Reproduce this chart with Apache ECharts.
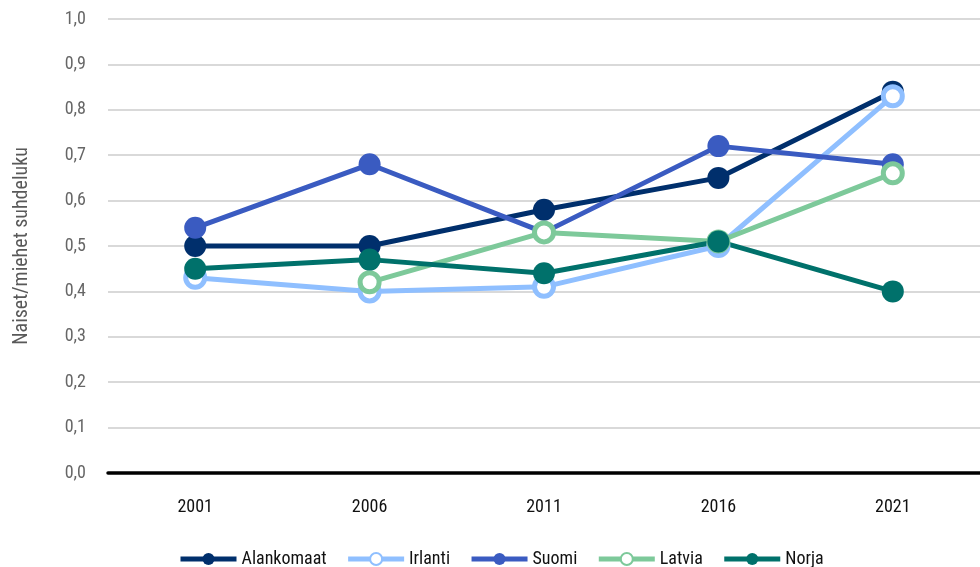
<!DOCTYPE html>
<html>
<head>
<meta charset="utf-8">
<script src="https://cdn.jsdelivr.net/npm/echarts@6/dist/echarts.min.js"></script>
<style>
  html, body { margin: 0; padding: 0; background: #fff; }
  #chart { width: 980px; height: 567px; }
</style>
</head>
<body>
<div id="chart"></div>
<script>
const years = ["2001", "2006", "2011", "2016", "2021"];
const alankomaat = [0.50, 0.50, 0.58, 0.65, 0.84];
const irlanti = [0.43, 0.40, 0.41, 0.50, 0.83];
const suomi = [0.54, 0.68, 0.53, 0.72, 0.68];
const latvia = [null, 0.42, 0.53, 0.51, 0.66];
const norja = [0.45, 0.47, 0.44, 0.51, 0.40];

const font = "'Roboto Condensed', 'DejaVu Sans Condensed', sans-serif";

function makeSeries(name, data, color, hollow) {
  return {
    name: name,
    type: "line",
    data: data,
    symbol: "circle",
    symbolSize: hollow ? 19 : 22,
    showAllSymbol: true,
    connectNulls: false,
    lineStyle: { width: 5, color: color },
    itemStyle: hollow
      ? { color: "#ffffff", borderColor: color, borderWidth: 5 }
      : { color: color, borderWidth: 0 },
    emphasis: { disabled: true },
  };
}

const chart = echarts.init(document.getElementById("chart"));
chart.setOption({
  animation: false,
  textStyle: { fontFamily: font },
  grid: { left: 108, width: 880, top: 19, bottom: 94 },
  legend: {
    top: 545,
    left: 173,
    itemWidth: 56,
    itemHeight: 15,
    itemGap: 19,
    lineStyle: { width: 5 },
    textStyle: { fontFamily: font, fontSize: 18, color: "#111" },
    data: ["Alankomaat", "Irlanti", "Suomi", "Latvia", "Norja"],
  },
  xAxis: {
    type: "category",
    data: years,
    axisLine: { lineStyle: { color: "#000", width: 3.5 } },
    axisTick: { show: false },
    axisLabel: { color: "#111", fontSize: 18, margin: 25, fontFamily: font },
  },
  yAxis: {
    type: "value",
    min: 0,
    max: 1,
    interval: 0.1,
    name: "Naiset/miehet suhdeluku",
    nameLocation: "middle",
    nameGap: 76,
    nameTextStyle: { color: "#595959", fontSize: 20, fontFamily: font },
    axisLabel: {
      color: "#666666",
      fontSize: 18,
      margin: 22,
      fontFamily: font,
      formatter: (v) => v.toFixed(1).replace(".", ","),
    },
    splitLine: { lineStyle: { color: "#d9d9d9", width: 2 } },
    axisLine: { show: false },
    axisTick: { show: false },
  },
  series: [
    makeSeries("Alankomaat", alankomaat, "#002F6C", false),
    makeSeries("Irlanti", irlanti, "#8FBFFF", true),
    makeSeries("Suomi", suomi, "#3A5BC1", false),
    makeSeries("Latvia", latvia, "#7DC99A", true),
    makeSeries("Norja", norja, "#00716B", false),
  ],
});
</script>
</body>
</html>
